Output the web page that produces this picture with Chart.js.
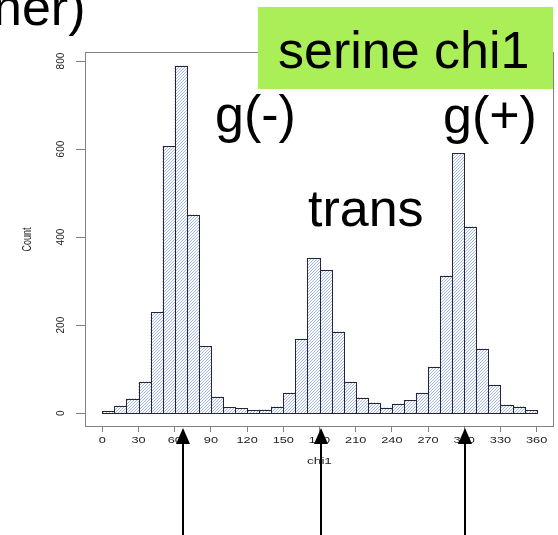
<!DOCTYPE html>
<html>
<head>
<meta charset="utf-8">
<title>serine chi1</title>
<script src="https://cdn.jsdelivr.net/npm/chart.js@4"></script>
<style>
  html, body { margin: 0; padding: 0; background: #ffffff; }
  canvas { display: block; }
</style>
</head>
<body>
<canvas id="hist" width="558" height="535"></canvas>
<script>
// Histogram of serine chi1 dihedral angles, 10-degree bins
const binStart = [0, 10, 20, 30, 40, 50, 60, 70, 80, 90, 100, 110, 120, 130, 140, 150, 160, 170,
                  180, 190, 200, 210, 220, 230, 240, 250, 260, 270, 280, 290, 300, 310, 320, 330, 340, 350];
const binWidth = 10;
const counts = [4, 17, 33, 71, 229, 607, 789, 451, 152, 37, 13, 11, 6, 8, 15, 46, 168, 352,
                325, 185, 71, 35, 24, 12, 21, 29, 46, 105, 312, 590, 424, 146, 64, 19, 15, 6];
const xTicks = [0, 30, 60, 90, 120, 150, 180, 210, 240, 270, 300, 330, 360];
const yTicks = [0, 200, 400, 600, 800];
const xTitle = 'chi1';
const yTitle = 'Count';
const boxTitle = 'serine chi1';
const clippedHeading = 'ner)';
const rotamerNames = ['g(-)', 'trans', 'g(+)'];
const arrowAngles = [67, 181, 301];

// 4% padding around the data range, as in base R plots
const xLo = binStart[0], xHi = binStart[binStart.length - 1] + binWidth;
const xPad = (xHi - xLo) * 0.04;
const yMaxCount = Math.max(...counts);
const yPad = yMaxCount * 0.04;

// Diagonal "////" hatching
function makeHatch(ctx) {
  const c = document.createElement('canvas');
  c.width = 3; c.height = 3;
  const g = c.getContext('2d');
  g.fillStyle = '#fdfdff';
  g.fillRect(0, 0, 3, 3);
  g.fillStyle = '#a2b8f4';
  g.fillRect(0, 2, 1, 1);
  g.fillRect(1, 1, 1, 1);
  g.fillRect(2, 0, 1, 1);
  return ctx.createPattern(c, 'repeat');
}

function stretchText(ctx, str, x, y, sx, rot) {
  ctx.save();
  ctx.translate(x, y);
  ctx.scale(sx, 1);
  if (rot) ctx.rotate(rot);
  ctx.fillText(str, 0, 0);
  ctx.restore();
}

const decorations = {
  id: 'decorations',
  afterDatasetsDraw(chart) {
    const ctx = chart.ctx;
    const meta = chart.getDatasetMeta(0);
    ctx.save();
    ctx.strokeStyle = '#262630';
    ctx.lineWidth = 1;
    meta.data.forEach(el => {
      const p = el.getProps(['x', 'y', 'base', 'width'], true);
      const l = Math.round(p.x - p.width / 2) + 0.5;
      const r = Math.round(p.x + p.width / 2) + 0.5;
      const t = Math.round(p.y) + 0.5;
      const b = Math.round(p.base) + 0.5;
      ctx.strokeRect(l, t, r - l, b - t);
    });
    ctx.restore();
  },
  afterDraw(chart) {
    const ctx = chart.ctx;
    const area = chart.chartArea;
    const xs = chart.scales.x, ys = chart.scales.y;
    ctx.save();

    // plot frame
    ctx.strokeStyle = '#808080';
    ctx.lineWidth = 1;
    ctx.strokeRect(Math.round(area.left) + 0.5, Math.round(area.top) + 0.5,
                   Math.round(area.right - area.left) - 1, Math.round(area.bottom - area.top) - 1);

    // tick labels and axis titles
    ctx.fillStyle = '#222222';
    ctx.textAlign = 'center';
    ctx.textBaseline = 'middle';
    ctx.font = '8.5px "Liberation Sans", Arial, sans-serif';
    xs.ticks.forEach(t => stretchText(ctx, String(t.value), xs.getPixelForValue(t.value), 441, 1.5, 0));
    ctx.font = '9px "Liberation Sans", Arial, sans-serif';
    stretchText(ctx, xTitle, (area.left + area.right) / 2, 462, 1.5, 0);
    ctx.font = '10px "Liberation Sans", Arial, sans-serif';
    ys.ticks.forEach(t => stretchText(ctx, String(t.value), 61, ys.getPixelForValue(t.value), 1.15, -Math.PI / 2));
    ctx.font = '9px "Liberation Sans", Arial, sans-serif';
    stretchText(ctx, yTitle, 27, (area.top + area.bottom) / 2, 1.5, -Math.PI / 2);

    // large labels
    ctx.fillStyle = '#000000';
    ctx.textAlign = 'left';
    ctx.textBaseline = 'alphabetic';
    ctx.font = '52px "Liberation Sans", Arial, sans-serif';
    ctx.fillText(clippedHeading, -7, 25);

    ctx.fillStyle = '#abef58';
    ctx.fillRect(258, 7, 295, 82);
    ctx.fillStyle = '#000000';
    ctx.fillText(boxTitle, 278, 68);

    ctx.fillText(rotamerNames[0], 215, 132);
    ctx.fillText(rotamerNames[1], 308, 226);
    ctx.fillText(rotamerNames[2], 443, 133);

    // arrows pointing at the rotamer positions
    ctx.strokeStyle = '#000000';
    ctx.lineWidth = 2;
    arrowAngles.forEach(a => {
      const x = Math.round(xs.getPixelForValue(a));
      ctx.beginPath();
      ctx.moveTo(x, 535);
      ctx.lineTo(x, 440);
      ctx.stroke();
      ctx.beginPath();
      ctx.moveTo(x, 428);
      ctx.lineTo(x - 7, 444);
      ctx.lineTo(x + 7, 444);
      ctx.closePath();
      ctx.fill();
    });
    ctx.restore();
  }
};

const canvas = document.getElementById('hist');
const ctx2d = canvas.getContext('2d');

new Chart(canvas, {
  type: 'bar',
  data: {
    datasets: [{
      data: binStart.map((s, i) => ({ x: s + binWidth / 2, y: counts[i] })),
      backgroundColor: makeHatch(ctx2d),
      borderWidth: 0,
      barPercentage: 1,
      categoryPercentage: 1
    }]
  },
  options: {
    responsive: false,
    devicePixelRatio: 1,
    animation: false,
    layout: { padding: { top: 52, right: 4, bottom: 0, left: 0 } },
    plugins: { legend: { display: false }, tooltip: { enabled: false } },
    scales: {
      x: {
        type: 'linear',
        offset: false,
        min: xLo - xPad,
        max: xHi + xPad,
        afterBuildTicks: s => { s.ticks = xTicks.map(v => ({ value: v })); },
        afterFit: s => { s.height = 108; },
        ticks: { display: false },
        border: { display: false },
        grid: { offset: false, drawOnChartArea: false, drawTicks: true, tickLength: 5, color: '#808080', lineWidth: 1 }
      },
      y: {
        type: 'linear',
        min: -yPad,
        max: yMaxCount + yPad,
        afterBuildTicks: s => { s.ticks = yTicks.map(v => ({ value: v })); },
        afterFit: s => { s.width = 85; },
        ticks: { display: false },
        border: { display: false },
        grid: { drawOnChartArea: false, drawTicks: true, tickLength: 9, color: '#808080', lineWidth: 1 }
      }
    }
  },
  plugins: [decorations]
});
</script>
</body>
</html>
